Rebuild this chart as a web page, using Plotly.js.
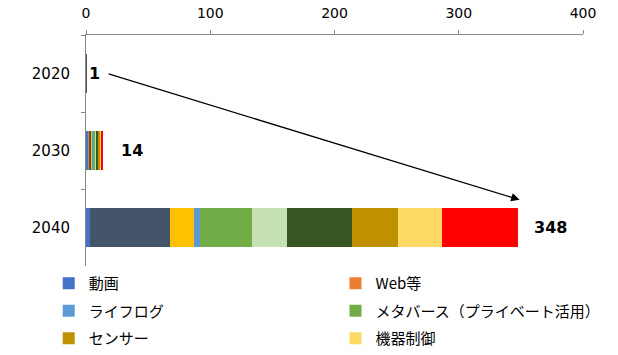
<!DOCTYPE html>
<html>
<head>
<meta charset="utf-8">
<script src="https://cdn.plot.ly/plotly-3.0.1.min.js"></script>
<style>html,body{margin:0;padding:0;background:#fff;}#chart{width:618px;height:355px;}</style>
</head>
<body>
<div id="chart"></div>
<script>
// ---- data ----
const years = ['2020', '2030', '2040'];
const douga      = [0.20, 2.0, 3.2];   // 動画
const webEtc     = [0.05, 0.6, 0.0];   // Web等
const seriesB    = [0.15, 1.3, 64.5];  // (unlabelled, slate)
const seriesC    = [0.05, 1.0, 19.3];  // (unlabelled, gold)
const lifelog    = [0.05, 0.8, 4.8];   // ライフログ
const metaverse  = [0.10, 1.7, 42.1];  // メタバース（プライベート活用）
const seriesF    = [0.05, 1.0, 27.7];  // (unlabelled, light green)
const seriesG    = [0.15, 1.6, 52.8];  // (unlabelled, dark green)
const sensor     = [0.05, 1.3, 36.7];  // センサー
const kikiSeigyo = [0.05, 1.0, 35.2];  // 機器制御
const seriesJ    = [0.10, 1.7, 61.4];  // (unlabelled, red)
const totals     = [1, 14, 348];
const xTicks     = [0, 100, 200, 300, 400];

// ---- traces (stack order left to right) ----
const defs = [
  {name: '動画', x: douga, color: '#4472C4', legend: 'legend'},
  {name: 'Web等', x: webEtc, color: '#ED7D31', legend: 'legend2'},
  {name: '系列B', x: seriesB, color: '#44546A', legend: null},
  {name: '系列C', x: seriesC, color: '#FFC000', legend: null},
  {name: 'ライフログ', x: lifelog, color: '#5B9BD5', legend: 'legend'},
  {name: 'メタバース（プライベート活用）', x: metaverse, color: '#70AD47', legend: 'legend2'},
  {name: '系列F', x: seriesF, color: '#C5E0B4', legend: null},
  {name: '系列G', x: seriesG, color: '#375623', legend: null},
  {name: 'センサー', x: sensor, color: '#BF9000', legend: 'legend'},
  {name: '機器制御', x: kikiSeigyo, color: '#FFD966', legend: 'legend2'},
  {name: '系列J', x: seriesJ, color: '#FF0000', legend: null}
];
const traces = defs.map((d, i) => {
  const t = {
    type: 'bar', orientation: 'h', name: d.name, x: d.x, y: years,
    marker: {color: d.color},
    showlegend: d.legend !== null, legendgroup: 'g' + i
  };
  if (d.legend) t.legend = d.legend;
  return t;
});

// category axes take serial numbers in annotations
const labelFont = {family: 'DejaVu Sans, Verdana, sans-serif', size: 16, color: '#000'};
const labelShift = [0, 16, 14];
const annotations = years.map((yr, i) => ({
  x: totals[i], y: i, xref: 'x', yref: 'y', text: '<b>' + totals[i] + '</b>',
  showarrow: false, xanchor: 'left', xshift: labelShift[i], font: labelFont
}));
// trend arrow from the 2020 label toward the end of the 2040 bar
annotations.push({
  x: 349, y: 1.64, xref: 'x', yref: 'y',
  ax: 17, ay: 0, axref: 'x', ayref: 'y',
  text: '', showarrow: true, arrowhead: 2, arrowsize: 1.3, arrowwidth: 1.3,
  arrowcolor: '#000', standoff: 0, startstandoff: 0
});

const legendFont = {family: '"Noto Sans CJK JP", sans-serif', size: 15, color: '#000'};
const xTickFont = {family: 'DejaVu Sans, Verdana, sans-serif', size: 14, color: '#000'};
const yTickFont = {family: 'DejaVu Sans, Verdana, sans-serif', size: 15, color: '#000'};
const layout = {
  width: 618, height: 355,
  margin: {l: 86, r: 35, t: 35, b: 89},
  paper_bgcolor: '#fff', plot_bgcolor: '#fff',
  barmode: 'stack', bargap: 0.5,
  font: {family: 'DejaVu Sans, "Noto Sans CJK JP", sans-serif', color: '#000'},
  xaxis: {
    side: 'top', range: [0, 400], tickvals: xTicks,
    showgrid: false, zeroline: false, showline: true, linecolor: '#888', linewidth: 1,
    ticks: 'outside', ticklen: 4, tickcolor: '#888', ticklabelstandoff: 6,
    tickfont: xTickFont
  },
  yaxis: {
    type: 'category', range: [years.length - 0.5, -0.5], autorange: false,
    showgrid: false, zeroline: false, showline: true, linecolor: '#888', linewidth: 1,
    ticks: 'outside', ticklen: 4, tickcolor: '#888', tickson: 'boundaries', ticklabelstandoff: 12,
    tickfont: yTickFont
  },
  legend: {
    orientation: 'v', x: -0.075, xanchor: 'left', yref: 'container', y: 0, yanchor: 'bottom',
    traceorder: 'grouped', tracegroupgap: 5, font: legendFont, bgcolor: 'rgba(0,0,0,0)'
  },
  legend2: {
    orientation: 'v', x: 0.502, xanchor: 'left', yref: 'container', y: 0, yanchor: 'bottom',
    traceorder: 'grouped', tracegroupgap: 5, font: legendFont, bgcolor: 'rgba(0,0,0,0)'
  },
  annotations: annotations,
  showlegend: true
};

Plotly.newPlot('chart', traces, layout, {displayModeBar: false, staticPlot: true});
</script>
</body>
</html>
